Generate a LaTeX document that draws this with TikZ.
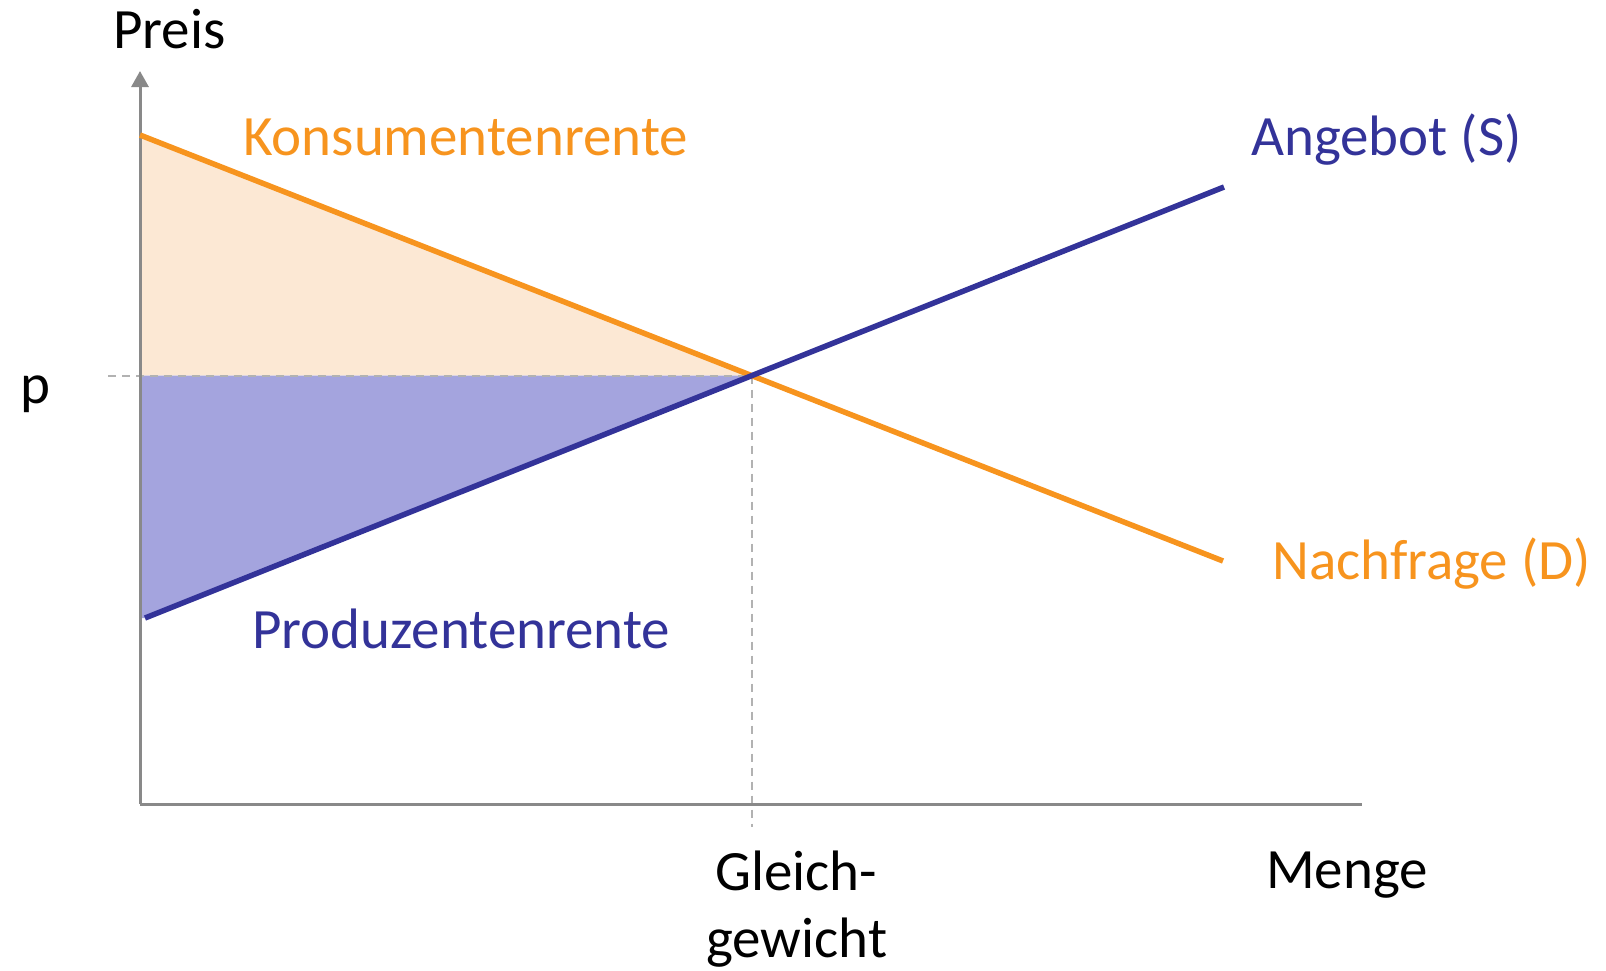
\documentclass[tikz,border=0pt]{standalone}
\usepackage{fontspec}
\setmainfont{Carlito}
\usetikzlibrary{arrows.meta}
\definecolor{orng}{RGB}{247,148,30}
\definecolor{navy}{RGB}{51,51,153}
\definecolor{csfill}{RGB}{252,232,212}
\definecolor{psfill}{RGB}{164,164,222}
\definecolor{axisgray}{RGB}{137,137,137}
\definecolor{dashgray}{RGB}{178,178,178}
\begin{document}
\begin{tikzpicture}[x=1pt,y=-1pt,
  lbl/.style={anchor=base west,inner sep=0pt,font=\fontsize{57}{68}\selectfont},
  axisline/.style={draw=axisgray,line width=3pt},
  guide/.style={draw=dashgray,line width=2pt,dash pattern=on 8pt off 6pt},
  demand/.style={draw=orng,line width=5.5pt},
  supply/.style={draw=navy,line width=5.5pt}]
\useasboundingbox (0,0) rectangle (1606,970);
\coordinate (O) at (140,804);
\coordinate (Ytop) at (140,71);
\coordinate (Xend) at (1362,804);
\coordinate (D1) at (140,135);
\coordinate (D2) at (1223,561);
\coordinate (S1) at (145,618);
\coordinate (S2) at (1224,187);
\coordinate (E) at (intersection of D1--D2 and S1--S2);
\coordinate (PL) at (108,0);
\coordinate (QB) at (0,827);
% surpluses
\fill[csfill] (D1) -- (E) -- (O |- E) -- cycle;
\fill[psfill] (O |- E) -- (E) -- (S1) -- (O |- S1) -- cycle;
% guides
\draw[guide] (PL |- E) -- (E);
\draw[guide] (E) -- (E |- QB);
% axes
\draw[axisline,-{Triangle[length=16pt,width=17pt]}] (O) -- (Ytop);
\draw[axisline] (O) -- (Xend);
% curves
\draw[demand] (D1) -- (D2);
\draw[supply] (S1) -- (S2);
% labels
\node[lbl] (preis) at (113,48) {Preis};
\node[lbl,text=orng] (kr) at (243,155) {Konsumentenrente};
\node[lbl,text=navy] (ang) at (1251,155) {Angebot (S)};
\node[lbl,text=orng] (nach) at (1272,579) {Nachfrage (D)};
\node[lbl,text=navy] (pr) at (252,648) {Produzentenrente};
\node[lbl] (p) at (20,403) {p};
\node[lbl] (gl1) at (715,890) {Gleich-};
\node[lbl] (gl2) at (706,957) {gewicht};
\node[lbl] (menge) at (1266,888) {Menge};
\end{tikzpicture}
\end{document}
